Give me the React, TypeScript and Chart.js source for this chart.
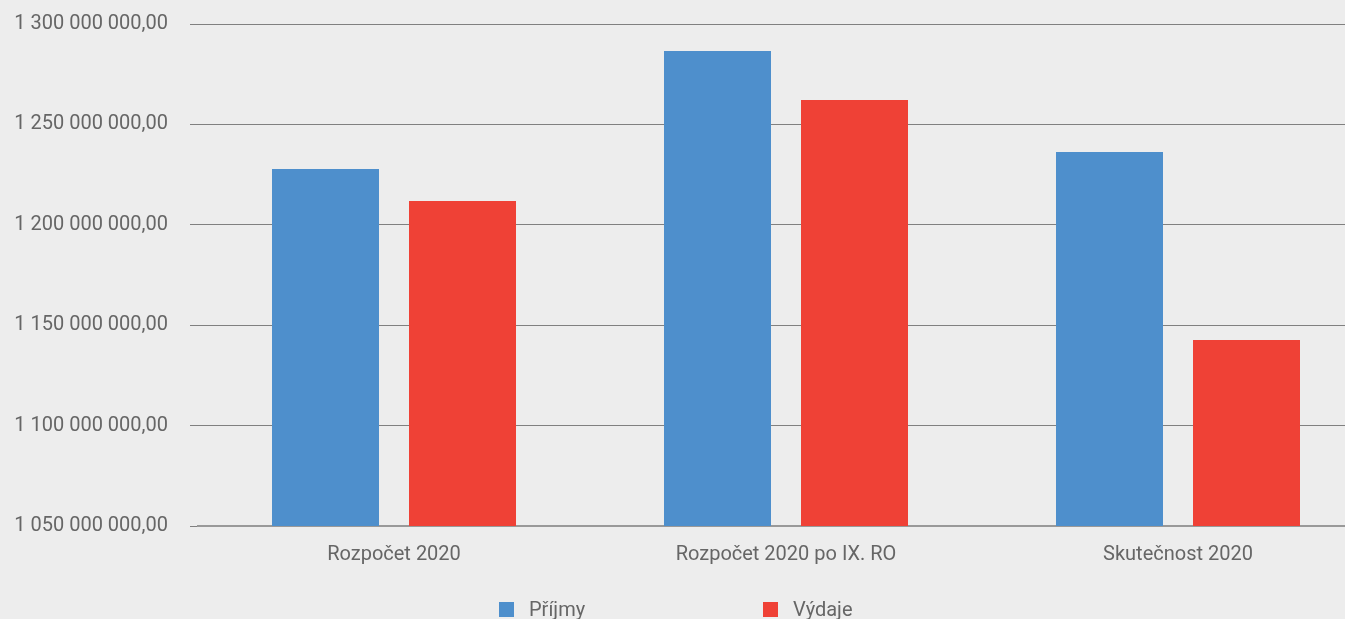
import React, { useEffect, useRef } from "react";
import { Chart, registerables } from "chart.js";

Chart.register(...registerables);

const categories = ["Rozpočet 2020", "Rozpočet 2020 po IX. RO", "Skutečnost 2020"];
const seriesNames = ["Příjmy", "Výdaje"];
const prijmy = [1227800000, 1286600000, 1236300000];
const vydaje = [1211900000, 1262200000, 1142600000];
const seriesColors = ["#4e8fcc", "#ef4136"];
const yMin = 1050000000;
const yMax = 1300000000;
const yStep = 50000000;

const FONT = "Roboto, 'Noto Sans', sans-serif";
const TEXT = "#666666";

function formatCz(v: number): string {
  const [i, d] = v.toFixed(2).split(".");
  return i.replace(/\B(?=(\d{3})+(?!\d))/g, " ") + "," + d;
}

const legendPlugin = {
  id: "customLegend",
  afterDraw(chart: any) {
    const ctx = chart.ctx;
    const xs = [499, 763];
    const y = 610;
    ctx.save();
    ctx.font = `20px ${FONT}`;
    ctx.textBaseline = "middle";
    ctx.textAlign = "left";
    chart.data.datasets.forEach((ds: any, i: number) => {
      ctx.fillStyle = ds.backgroundColor;
      ctx.fillRect(xs[i], y - 8, 15, 15);
      ctx.fillStyle = TEXT;
      ctx.fillText(ds.label, xs[i] + 30, y + 1);
    });
    ctx.restore();
  },
};

export default function App() {
  const ref = useRef<HTMLCanvasElement>(null);
  useEffect(() => {
    document.body.style.margin = "0";
    document.body.style.background = "#ededed";
    const chart = new Chart(ref.current!, {
      type: "bar",
      data: {
        labels: categories,
        datasets: [
          { label: seriesNames[0], data: prijmy, backgroundColor: seriesColors[0] },
          { label: seriesNames[1], data: vydaje, backgroundColor: seriesColors[1] },
        ],
      },
      options: {
        animation: false,
        responsive: false,
        devicePixelRatio: 1,
        layout: { padding: { top: 24, right: 0, bottom: 0, left: 0 } },
        datasets: {
          bar: { categoryPercentage: 0.699, barPercentage: 0.781 },
        },
        plugins: {
          legend: { display: false },
          tooltip: { enabled: false },
        },
        scales: {
          x: {
            grid: { display: false, drawTicks: false },
            border: { display: true, color: "#999999", width: 2 },
            ticks: { color: TEXT, font: { family: FONT, size: 20 }, padding: 17 },
            afterFit: (s: any) => {
              s.height = 93;
            },
          },
          y: {
            min: yMin,
            max: yMax,
            border: { display: false },
            grid: { color: "#808080", lineWidth: 1, tickLength: 8, drawTicks: true },
            ticks: {
              stepSize: yStep,
              color: TEXT,
              padding: 22,
              font: { family: FONT, size: 20 },
              callback: (v: any) => formatCz(Number(v)),
            },
            afterFit: (s: any) => {
              s.width = 198;
              s.paddingTop = 0;
              s.paddingBottom = 0;
            },
          },
        },
      },
      plugins: [legendPlugin],
    });
    return () => chart.destroy();
  }, []);
  return (
    <div
      style={{
        position: "fixed",
        left: 0,
        top: 0,
        width: 1345,
        height: 619,
        overflow: "hidden",
        background: "#ededed",
      }}
    >
      <canvas ref={ref} width={1374} height={619} style={{ display: "block" }} />
    </div>
  );
}
